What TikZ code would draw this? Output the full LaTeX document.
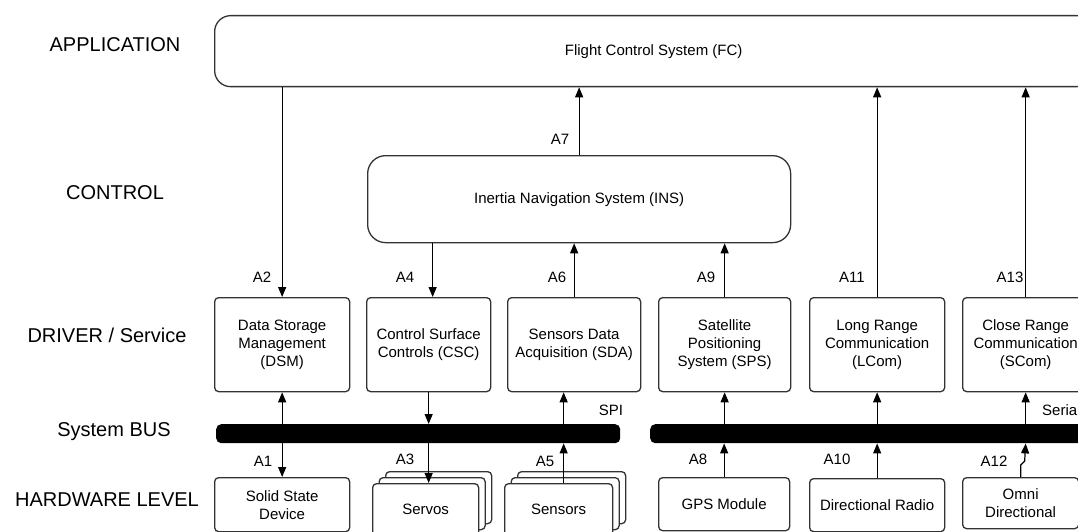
\documentclass[tikz,border=0pt]{standalone}
\usepackage{fontspec}
\setmainfont{Liberation Sans}
\usetikzlibrary{arrows.meta,shadows,calc}
\definecolor{edge}{HTML}{333333}

\begin{document}
\begin{tikzpicture}[x=1pt, y=-1pt,
    layer/.style={font=\fontsize{20}{24}\selectfont},
    lbl/.style={font=\fontsize{15}{18}\selectfont, inner sep=0pt},
    blk/.style={draw=edge, line width=1.3pt, fill=white, align=center,
      font=\fontsize{15}{18}\selectfont, inner sep=2pt, anchor=north west},
    drv/.style={blk, rounded corners=4pt, minimum height=94pt},
    hw/.style={blk, rounded corners=4pt, minimum height=53pt},
    stack/.style={hw, minimum height=52pt, double copy shadow={shadow xshift=6.5pt, shadow yshift=6pt}},
    sys/.style={blk, rounded corners=16pt},
    bus/.style={fill=black, rounded corners=5pt, minimum height=19pt, inner sep=0pt, anchor=north west},
    arr/.style={line width=1.2pt, -{Triangle[length=10pt,width=8pt]}},
    darr/.style={line width=1.2pt, {Triangle[length=10pt,width=8pt]}-{Triangle[length=10pt,width=8pt]}}]
  \clip (0,0) rectangle (1078,532);

  % layer names
  \node[layer] (lapp) at (115,45) {APPLICATION};
  \node[layer] (lctl) at (115,193) {CONTROL};
  \node[layer] (ldrv) at (107,335) {DRIVER / Service};
  \node[layer] (lbus) at (114,432) {System BUS};
  \node[layer] (lhw)  at (107,500) {HARDWARE LEVEL};

  % application + control
  \node[sys, minimum width=878pt, minimum height=71pt] (fc) at (214,15) {Flight Control System (FC)};
  \node[sys, rounded corners=18pt, minimum width=423pt, minimum height=87pt] (ins) at (367,155) {Inertia Navigation System (INS)};

  % drivers / services
  \node[drv, minimum width=135pt] (dsm)  at (214,297) {Data Storage\\Management\\(DSM)};
  \node[drv, minimum width=124pt] (csc)  at (366,297) {Control Surface\\Controls (CSC)};
  \node[drv, minimum width=133pt] (sda)  at (507,297) {Sensors Data\\Acquisition (SDA)};
  \node[drv, minimum width=132pt] (sps)  at (658,297) {Satellite\\Positioning\\System (SPS)};
  \node[drv, minimum width=135pt] (lcom) at (809,297) {Long Range\\Communication\\(LCom)};
  \node[drv, minimum width=126pt] (scom) at (962,297) {Close Range\\Communication\\(SCom)};

  % buses
  \node[bus, minimum width=404pt] (spibus) at (216,424) {};
  \node[bus, minimum width=440pt] (serbus) at (650,424) {};
  \node[lbl] (spi) at (611,410) {SPI};
  \node[lbl, anchor=west] (serial) at (1042,410) {Serial};

  % hardware
  \node[hw, minimum width=135pt, minimum height=54pt] (ssd) at (214,477) {Solid State\\Device};
  \node[stack, minimum width=106pt] (servos)  at (372,483) {Servos};
  \node[stack, minimum width=108pt] (sensors) at (504,483) {Sensors};
  \node[hw, minimum width=131pt] (gps)   at (658,477) {GPS Module};
  \node[hw, minimum width=135pt] (radio) at (809,478) {Directional Radio};
  \node[hw, minimum width=116pt, minimum height=51pt] (omni) at (962,477) {Omni\\Directional};

  % upper connectors
  \draw[arr] (fc.south -| dsm.north) -- (dsm.north);
  \draw[arr] ([xshift=4pt]ins.south -| csc.north) -- ([xshift=4pt]csc.north);
  \draw[arr] (sda.north) -- (sda.north |- ins.south);
  \draw[arr] (sps.north) -- (sps.north |- ins.south);
  \draw[arr] (ins.north) -- (ins.north |- fc.south);
  \draw[arr] (lcom.north) -- (lcom.north |- fc.south);
  \draw[arr] (scom.north) -- (scom.north |- fc.south);

  % bus connectors
  \draw[darr] (dsm.south) -- (ssd.north);
  \draw[arr] (csc.south) -- (csc.south |- spibus.north);
  \draw[arr] (csc.south |- spibus.south) -- (csc.south |- servos.north);
  \draw[arr] ([xshift=5pt]sensors.north) -- ([xshift=5pt]sensors.north |- spibus.south);
  \draw[arr] ([xshift=5pt]sensors.north |- spibus.north) -- ([xshift=5pt]sensors.north |- sda.south);
  \draw[arr] (gps.north) -- (gps.north |- serbus.south);
  \draw[arr] (sps.south |- serbus.north) -- (sps.south);
  \draw[arr] (radio.north) -- (radio.north |- serbus.south);
  \draw[arr] (lcom.south |- serbus.north) -- (lcom.south);
  \draw[arr] (omni.north) -- ++(0,-12) -- ++(4,-4) -- (scom.south |- serbus.south);
  \draw[arr] (scom.south |- serbus.north) -- (scom.south);

  % connector names
  \node[lbl] (a1)  at (263,461) {A1};
  \node[lbl] (a2)  at (262,277) {A2};
  \node[lbl] (a3)  at (405,459) {A3};
  \node[lbl] (a4)  at (405,277) {A4};
  \node[lbl] (a5)  at (545,461) {A5};
  \node[lbl] (a6)  at (557,277) {A6};
  \node[lbl] (a7)  at (560,139) {A7};
  \node[lbl] (a8)  at (698,459) {A8};
  \node[lbl] (a9)  at (706,277) {A9};
  \node[lbl] (a10) at (837,459) {A10};
  \node[lbl] (a11) at (852,277) {A11};
  \node[lbl] (a12) at (994,461) {A12};
  \node[lbl] (a13) at (1010,277) {A13};
\end{tikzpicture}
\end{document}
